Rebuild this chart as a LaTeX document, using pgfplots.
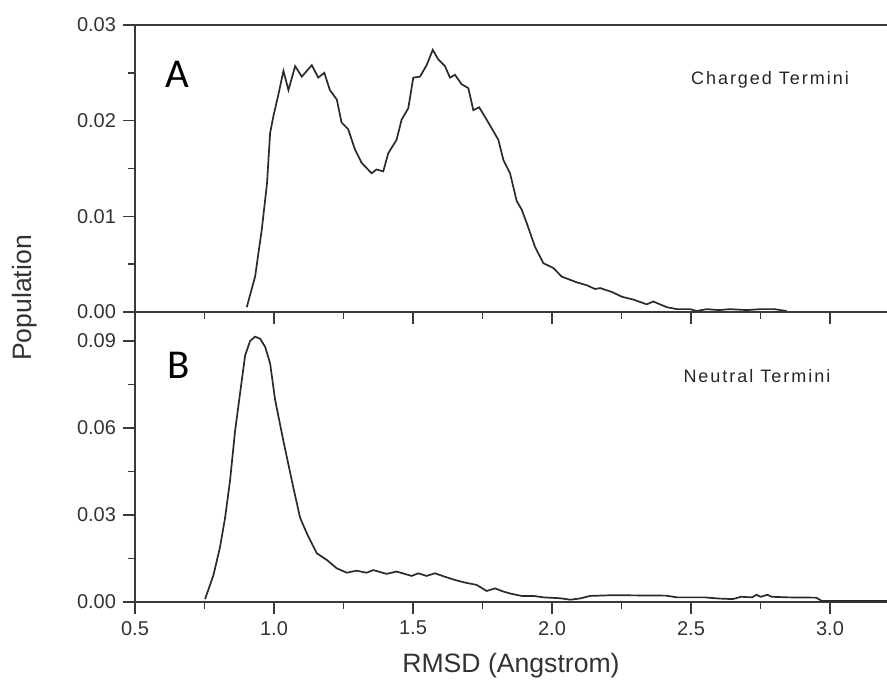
\documentclass[border=0pt]{standalone}
\usepackage{fontspec}
\setmainfont{Liberation Sans}
\newfontfamily\calib{Carlito}
\newfontfamily\spaced[LetterSpace=11]{Liberation Sans}
\usepackage{pgfplots}
\pgfplotsset{compat=1.18}
\definecolor{curve}{HTML}{2A2A2A}
\definecolor{axcol}{HTML}{3A3A3A}
\begin{document}
\begin{tikzpicture}
\pgfplotsset{
  common/.style={
    scale only axis, width=376pt,
    xmin=0.5, xmax=3.205,
    axis x line*=box, axis y line*=left,
    axis line style={axcol, line width=0.7pt},
    every tick/.style={axcol, line width=0.7pt},
    tick align=outside,
    major tick length=6pt, minor tick length=3.5pt,
    xtick pos=bottom, ytick pos=left,
    xtick={0.5,1.0,1.5,2.0,2.5,3.0},
    minor x tick num=1, minor y tick num=1,
    scaled y ticks=false, scaled x ticks=false,
    /pgf/number format/assume math mode=true,
    ticklabel style={font=\fontsize{10}{12}\selectfont, text=black!80},
    yticklabel style={/pgf/number format/fixed, /pgf/number format/precision=2, /pgf/number format/fixed zerofill},
    xticklabel style={/pgf/number format/fixed, /pgf/number format/precision=1, /pgf/number format/fixed zerofill},
    clip=false,
  }
}
\begin{axis}[common, name=top, at={(0,0)}, anchor=south west,
  height=143.5pt, ymin=0, ymax=0.03, ytick={0,0.01,0.02,0.03},
  xticklabels={}]
\addplot[curve, line width=0.85pt, sharp plot] coordinates {
(0.902,0.0005)(0.932,0.0037)(0.956,0.0086)(0.975,0.0135)(0.986,0.0187)(0.998,0.0205)(1.014,0.0225)(1.034,0.0252)(1.052,0.0232)(1.076,0.0257)(1.100,0.0246)(1.136,0.0258)(1.159,0.0245)(1.181,0.0250)(1.201,0.0232)(1.226,0.0222)(1.243,0.0198)(1.267,0.0191)(1.291,0.0170)(1.315,0.0156)(1.351,0.0145)(1.369,0.0149)(1.393,0.0147)(1.411,0.0166)(1.441,0.0180)(1.459,0.0201)(1.483,0.0213)(1.501,0.0245)(1.525,0.0246)(1.549,0.0258)(1.571,0.0274)(1.591,0.0264)(1.615,0.0257)(1.633,0.0245)(1.651,0.0248)(1.675,0.0238)(1.699,0.0234)(1.717,0.0211)(1.738,0.0214)(1.765,0.0201)(1.807,0.0180)(1.825,0.0159)(1.849,0.0145)(1.873,0.0116)(1.891,0.0107)(1.909,0.0093)(1.939,0.0068)(1.969,0.0051)(2.005,0.0046)(2.035,0.0037)(2.089,0.0031)(2.125,0.0028)(2.155,0.0024)(2.173,0.0025)(2.215,0.0021)(2.251,0.0016)(2.292,0.0013)(2.341,0.0008)(2.364,0.0011)(2.413,0.0005)(2.449,0.0003)(2.497,0.0003)(2.520,0.0001)(2.556,0.0003)(2.600,0.0002)(2.640,0.0003)(2.700,0.0002)(2.750,0.0003)(2.800,0.0003)(2.844,0.0001)
};
\node[font=\calib\fontsize{20.5}{22}\selectfont, text=black] at (axis cs:0.652,0.0248) {A};
\node[font=\spaced\fontsize{9}{11}\selectfont, text=black!85] at (axis cs:2.784,0.0243) {Charged Termini};
\end{axis}
\begin{axis}[common, name=bot, at={(0,0)}, anchor=north west,
  height=145pt, ymin=0, ymax=0.1, ytick={0,0.03,0.06,0.09},
  xlabel={RMSD (Angstrom)},
  xlabel style={font=\fontsize{13.3}{15}\selectfont, text=black!80, yshift=-2pt}]
\addplot[curve, line width=0.85pt, sharp plot] coordinates {
(0.752,0.0010)(0.782,0.0092)(0.806,0.0190)(0.824,0.0290)(0.842,0.0420)(0.860,0.0590)(0.878,0.0720)(0.896,0.0850)(0.914,0.0900)(0.932,0.0915)(0.950,0.0908)(0.968,0.0880)(0.986,0.0823)(1.004,0.0697)(1.033,0.0559)(1.069,0.0397)(1.094,0.0290)(1.118,0.0237)(1.154,0.0168)(1.190,0.0145)(1.226,0.0116)(1.262,0.0101)(1.297,0.0108)(1.333,0.0101)(1.357,0.0110)(1.405,0.0097)(1.441,0.0105)(1.495,0.0090)(1.519,0.0099)(1.549,0.0090)(1.579,0.0099)(1.615,0.0087)(1.651,0.0076)(1.687,0.0067)(1.729,0.0059)(1.765,0.0038)(1.795,0.0047)(1.825,0.0036)(1.855,0.0028)(1.891,0.0021)(1.933,0.0021)(1.969,0.0016)(2.029,0.0013)(2.065,0.0008)(2.100,0.0012)(2.137,0.0021)(2.200,0.0023)(2.280,0.0023)(2.410,0.0022)(2.450,0.0016)(2.550,0.0016)(2.600,0.0012)(2.650,0.0010)(2.680,0.0018)(2.720,0.0016)(2.735,0.0025)(2.750,0.0018)(2.775,0.0025)(2.790,0.0018)(2.850,0.0016)(2.950,0.0015)(2.970,0.0004)(3.100,0.0004)(3.205,0.0004)
};
\node[font=\calib\fontsize{20.5}{22}\selectfont, text=black] at (axis cs:0.656,0.0817) {B};
\node[font=\spaced\fontsize{9}{11}\selectfont, text=black!85] at (axis cs:2.737,0.0779) {Neutral Termini};
\end{axis}
\node[rotate=90, font=\fontsize{13.3}{15}\selectfont, text=black!80] at (-55pt,7pt) {Population};
\pgfresetboundingbox
\path[use as bounding box] (-67.5pt,-187pt) rectangle (376pt,156pt);
\end{tikzpicture}
\end{document}
